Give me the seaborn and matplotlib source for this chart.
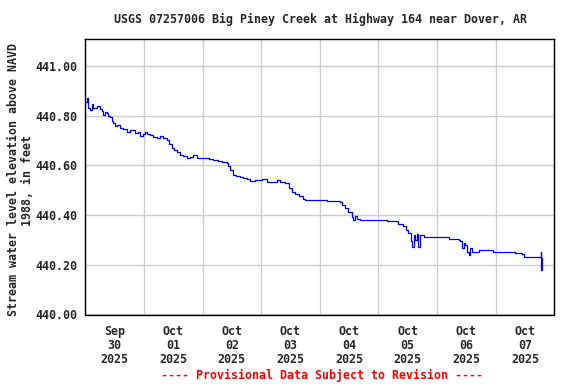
import pandas as pd
import matplotlib
matplotlib.use("Agg")
import matplotlib.pyplot as plt
import seaborn as sns

# Gage height readings, hours after 2025-09-30 00:00
hours = [
    0.2, 0.7, 1.2, 1.9, 2.6, 3.3, 4.7, 6.0, 6.7, 7.2, 8.1, 8.8, 9.3, 10.2,
    10.9, 11.3, 12.2, 13.0, 14.2, 15.3, 17.0, 18.3, 20.4, 21.6, 22.4, 23.6,
    24.5, 25.3, 26.5, 27.7, 29.2, 30.6, 31.8, 33.4, 34.3, 35.4, 36.3, 37.4,
    38.8, 40.0, 41.5, 42.9, 44.2, 45.6, 47.0, 49.0, 50.7, 52.3, 54.4, 56.0,
    57.9, 58.5, 59.3, 60.5, 61.7, 63.4, 64.6, 66.2, 67.5, 69.5, 72.3, 74.3,
    75.7, 78.4, 79.7, 81.8, 83.2, 84.6, 86.0, 87.3, 89.3, 90.0, 92.1, 95.5,
    98.9, 104.3, 105.0, 106.4, 107.7, 109.1, 109.7, 110.4, 111.1, 112.5,
    116.6, 119.9, 123.5, 128.2, 130.2, 131.2, 132.3, 133.2, 133.7, 134.4,
    135.1, 135.8, 136.4, 137.1, 138.5, 141.2, 146.0, 148.7, 152.8, 153.5,
    154.2, 154.9, 155.5, 156.2, 156.9, 157.6, 158.3, 159.6, 161.0, 167.1,
    173.3, 176.0, 178.7, 179.4, 186.3, 186.6, 186.7, 186.8,
]
elevation = [
    440.858, 440.873, 440.833, 440.825, 440.849, 440.833, 440.838, 440.829,
    440.821, 440.804, 440.817, 440.812, 440.800, 440.796,
    440.780, 440.772, 440.760, 440.764, 440.752, 440.748, 440.737, 440.744,
    440.732, 440.736, 440.717, 440.728,
    440.737, 440.728, 440.724, 440.716, 440.712, 440.717, 440.712, 440.704,
    440.688, 440.671, 440.663, 440.656,
    440.643, 440.639, 440.631, 440.635, 440.643, 440.631, 440.631, 440.631,
    440.627, 440.623, 440.619, 440.615,
    440.611, 440.599, 440.583, 440.562, 440.558, 440.554, 440.550, 440.546,
    440.539, 440.542, 440.546, 440.535,
    440.535, 440.540, 440.535, 440.529, 440.509, 440.495, 440.486, 440.475,
    440.466, 440.462, 440.462, 440.459,
    440.455, 440.451, 440.442, 440.428, 440.412, 440.394, 440.381, 440.397,
    440.384, 440.381,
    440.381, 440.381, 440.378, 440.365, 440.354, 440.341, 440.327, 440.294,
    440.271, 440.321,
    440.300, 440.325, 440.271, 440.321, 440.311, 440.311, 440.311, 440.304,
    440.300, 440.294,
    440.267, 440.287, 440.280, 440.253, 440.240, 440.267, 440.253, 440.253,
    440.260, 440.251,
    440.251, 440.247, 440.244, 440.231, 440.231, 440.253, 440.179, 440.225,
]

y_ticks = [440.0, 440.2, 440.4, 440.6, 440.8, 441.0]
day_labels = ["Sep\n30\n2025", "Oct\n01\n2025", "Oct\n02\n2025", "Oct\n03\n2025",
              "Oct\n04\n2025", "Oct\n05\n2025", "Oct\n06\n2025", "Oct\n07\n2025"]

df = pd.DataFrame({
    "time": pd.Timestamp("2025-09-30") + pd.to_timedelta(hours, unit="h"),
    "elev": elevation,
})

sns.set_style("white")
plt.rcParams["font.family"] = ["DejaVu Sans Mono"]
plt.rcParams["font.weight"] = "bold"

fig = plt.figure(figsize=(5.76, 3.84), dpi=100)
ax = fig.add_axes([85.3 / 576, 1 - 315 / 384, 469 / 576, 275.7 / 384])

sns.lineplot(data=df, x="time", y="elev", ax=ax, color="#0000ff",
             linewidth=0.9, drawstyle="steps-post", estimator=None)

start = pd.Timestamp("2025-09-30")
ax.set_xlim(start, start + pd.Timedelta(days=8))
ax.set_ylim(439.997, 441.109)

days = [start + pd.Timedelta(days=i) for i in range(9)]
noons = [start + pd.Timedelta(days=i, hours=12) for i in range(8)]
ax.set_xticks(days)
ax.set_xticklabels([""] * 9)
ax.set_xticks(noons, minor=True)
ax.set_xticklabels(day_labels, minor=True, fontsize=8.4, fontweight="bold",
                   linespacing=1.1)
ax.set_yticks(y_ticks)
ax.set_yticklabels([f"{v:.2f}" for v in y_ticks], fontsize=8.4, fontweight="bold")
ax.tick_params(axis="both", which="both", length=0)
ax.tick_params(axis="x", which="minor", pad=7)
ax.tick_params(axis="y", pad=5.5)

ax.grid(True, which="major", color="#cccccc", linewidth=1.0)
for s in ax.spines.values():
    s.set_color("black")
    s.set_linewidth(1.0)

ax.set_xlabel("")
ax.set_ylabel("")

fig.text(320 / 576, 1 - 19 / 384,
         "USGS 07257006 Big Piney Creek at Highway 164 near Dover, AR",
         ha="center", va="center", fontsize=8.4, fontweight="bold")
fig.text(20.5 / 576, 1 - 180 / 384,
         "Stream water level elevation above NAVD\n1988, in feet",
         ha="center", va="center", rotation=90, fontsize=8.4,
         fontweight="bold", linespacing=1.15, multialignment="center")
fig.text(322 / 576, 1 - 375 / 384,
         "---- Provisional Data Subject to Revision ----",
         ha="center", va="center", fontsize=8.4, fontweight="bold",
         color="#ff0000")

fig.savefig("out.png", dpi=100)
